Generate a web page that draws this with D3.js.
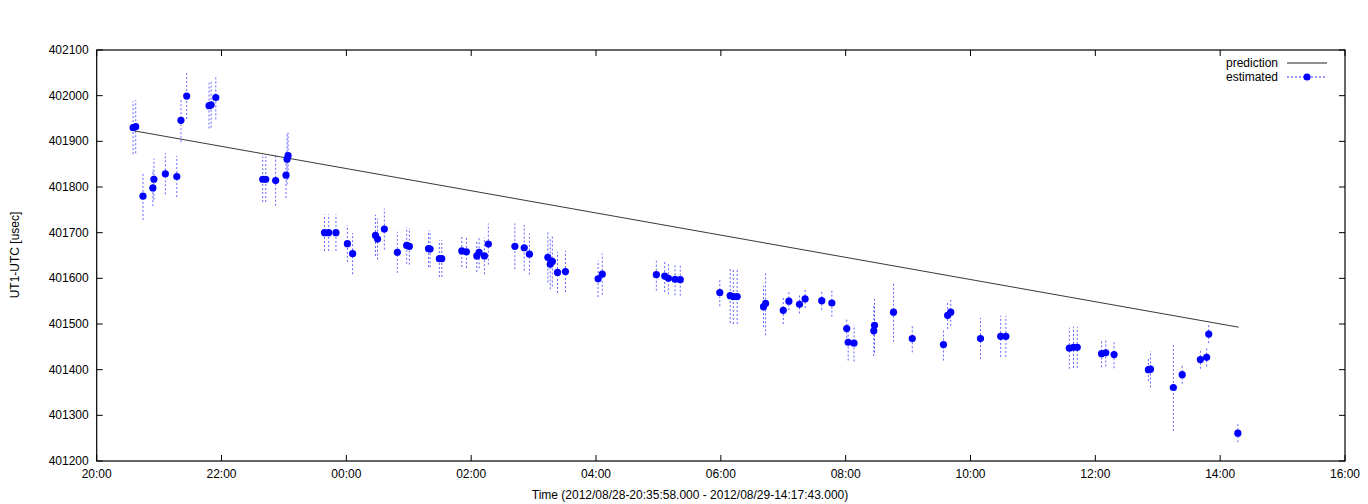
<!DOCTYPE html>
<html><head><meta charset="utf-8">
<script src="https://cdn.jsdelivr.net/npm/d3@7"></script>
<style>body{margin:0;background:#fff}svg{font-family:"Liberation Sans",Arial,sans-serif}</style>
</head><body><svg id="c" width="1368" height="504"></svg>
<script>
const times = ["20:35","20:37.5","20:44.5","20:54","20:55","21:06","21:17","21:21","21:26.5","21:48","21:50","21:54.5","22:39.6","22:42.5","22:52","23:02","23:03","23:04","23:39","23:43","23:50","00:01","00:06","00:28","00:30","00:36.5","00:49","00:58","01:00.6","01:19","01:20.5","01:29.4","01:31.7","01:51","01:55.4","02:05.4","02:07.6","02:12.7","02:16.5","02:42","02:51","02:56","03:13.7","03:16","03:18","03:23","03:30.6","04:02","04:06","04:58","05:06","05:09.6","05:16","05:21","05:59","06:09","06:12","06:15.7","06:41","06:43","07:00","07:05.4","07:15.6","07:21","07:37","07:46.7","08:01","08:02.4","08:08","08:27","08:27.7","08:46","09:04","09:34","09:38","09:41","10:09.6","10:29","10:34","11:35","11:39","11:42.6","12:06","12:10","12:18","12:51","12:53","13:15","13:23.5","13:41","13:47","13:49","14:17"];
const values = [401930,401932,401780,401798,401817,401829,401823,401946,401999,401978,401980,401996,401817,401817,401814,401826,401861,401869,401700,401700,401700,401676,401654,401694,401686,401708,401657,401672,401670,401665,401664,401643,401643,401660,401658,401649,401657,401649,401675,401670,401667,401653,401646,401631,401637,401613,401615,401599,401609,401608,401605,401600,401598,401597,401569,401562,401560,401560,401538,401545,401530,401550,401543,401555,401551,401546,401490,401460,401458,401485,401497,401526,401468,401455,401519,401526,401468,401473,401473,401447,401449,401449,401435,401437,401433,401400,401401,401361,401389,401422,401427,401478,401261];
const errors = [58,58,52,40,45,45,45,48,50,50,50,48,50,50,55,50,55,50,40,40,40,40,45,45,45,45,45,40,40,40,40,40,40,35,35,35,35,40,45,50,50,45,55,55,55,45,45,40,45,35,35,35,35,35,30,60,60,60,45,70,30,20,20,20,20,30,20,40,40,55,60,65,30,35,30,30,45,45,45,45,45,45,30,30,30,25,40,95,20,20,20,20,20];
const predTimes = ["20:35:58","14:17:43"];
const predValues = [401923,401493];
const yTicks = [401200,401300,401400,401500,401600,401700,401800,401900,402000,402100];
const xTickLabels = ["20:00","22:00","00:00","02:00","04:00","06:00","08:00","10:00","12:00","14:00","16:00"];

function toH(s){const p=s.split(":").map(Number);let h=p[0]+(p[1]||0)/60+(p[2]||0)/3600;if(h<20)h+=24;return h-20;}
const svg=d3.select("#c");
const L=96.7,R=1345,T=50,B=461;
const x=d3.scaleLinear().domain([0,20]).range([L,R]);
const y=d3.scaleLinear().domain([401200,402100]).range([B,T]);
const g=svg.append("g");
// error bars
times.forEach((t,i)=>{g.append("line").attr("x1",x(toH(t))).attr("x2",x(toH(t))).attr("y1",y(values[i]-errors[i])).attr("y2",y(values[i]+errors[i])).attr("stroke","#3030ff").attr("stroke-opacity",0.75).attr("stroke-width",1).attr("stroke-dasharray","2,2");});
// prediction
g.append("line").attr("x1",x(toH(predTimes[0]))).attr("y1",y(predValues[0])).attr("x2",x(toH(predTimes[1]))).attr("y2",y(predValues[1])).attr("stroke","#222").attr("stroke-width",0.9);
// points
times.forEach((t,i)=>{g.append("circle").attr("cx",x(toH(t))).attr("cy",y(values[i])).attr("r",3.6).attr("fill","#0000ff");});
// frame
svg.append("rect").attr("x",L).attr("y",T).attr("width",R-L).attr("height",B-T).attr("fill","none").attr("stroke","#000").attr("stroke-width",1.2);
// y ticks
yTicks.forEach(v=>{svg.append("line").attr("x1",L).attr("x2",L+6).attr("y1",y(v)).attr("y2",y(v)).attr("stroke","#000");
 svg.append("line").attr("x1",R-6).attr("x2",R).attr("y1",y(v)).attr("y2",y(v)).attr("stroke","#000");
 svg.append("text").attr("x",L-8).attr("y",y(v)+4).attr("text-anchor","end").attr("font-size",12).text(v);});
xTickLabels.forEach((lab,i)=>{const xx=x(i*2);
 svg.append("line").attr("x1",xx).attr("x2",xx).attr("y1",B).attr("y2",B-6).attr("stroke","#000");
 svg.append("line").attr("x1",xx).attr("x2",xx).attr("y1",T).attr("y2",T+6).attr("stroke","#000");
 svg.append("text").attr("x",xx).attr("y",B+17).attr("text-anchor","middle").attr("font-size",12).text(lab);});
svg.append("text").attr("x",690).attr("y",499).attr("text-anchor","middle").attr("font-size",12).text("Time (2012/08/28-20:35:58.000 - 2012/08/29-14:17:43.000)");
svg.append("text").attr("transform","translate(19,255) rotate(-90)").attr("text-anchor","middle").attr("font-size",12).text("UT1-UTC [usec]");
// legend
svg.append("text").attr("x",1278).attr("y",67).attr("text-anchor","end").attr("font-size",12).text("prediction");
svg.append("line").attr("x1",1287).attr("x2",1327).attr("y1",63).attr("y2",63).attr("stroke","#222");
svg.append("text").attr("x",1278).attr("y",81).attr("text-anchor","end").attr("font-size",12).text("estimated");
svg.append("line").attr("x1",1287).attr("x2",1325).attr("y1",77).attr("y2",77).attr("stroke","#3030ff").attr("stroke-dasharray","2,2");
svg.append("circle").attr("cx",1307).attr("cy",77).attr("r",3.6).attr("fill","#0000ff");
</script></body></html>
